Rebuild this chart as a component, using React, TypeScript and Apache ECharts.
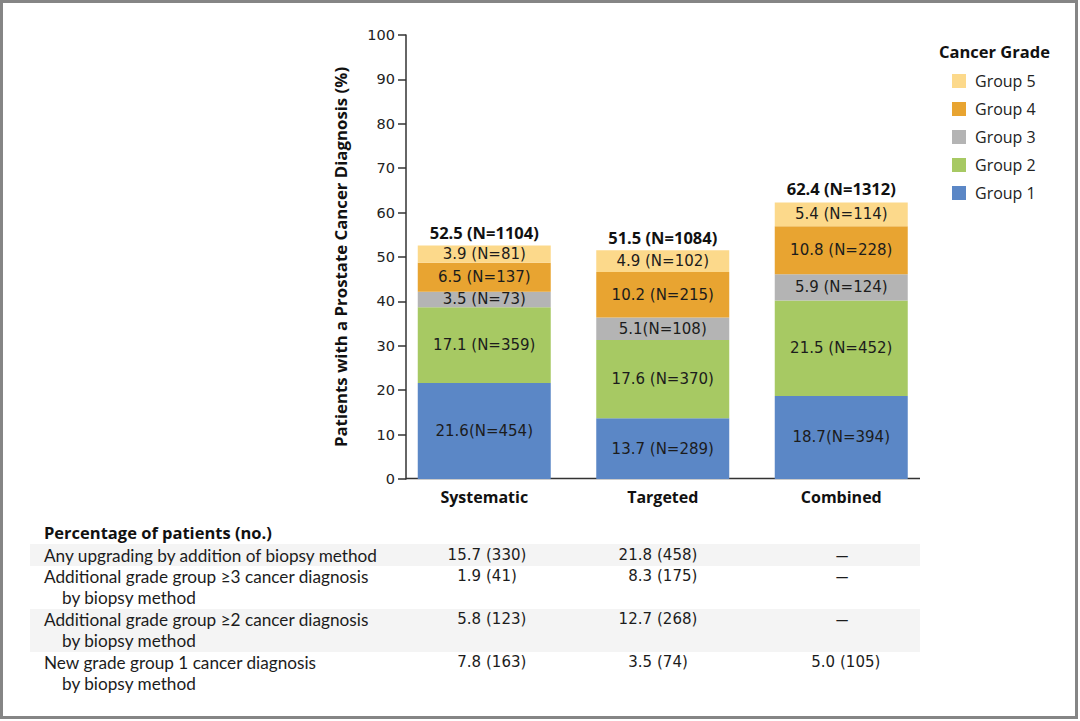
import React, { useEffect, useRef } from "react";
import * as echarts from "echarts";

const categories = ["Systematic", "Targeted", "Combined"];
const groupNames = ["Group 1", "Group 2", "Group 3", "Group 4", "Group 5"];
const group1 = [21.6, 13.7, 18.7];
const group2 = [17.1, 17.6, 21.5];
const group3 = [3.5, 5.1, 5.9];
const group4 = [6.5, 10.2, 10.8];
const group5 = [3.9, 4.9, 5.4];
const group1Labels = ["21.6(N=454)", "13.7 (N=289)", "18.7(N=394)"];
const group2Labels = ["17.1 (N=359)", "17.6 (N=370)", "21.5 (N=452)"];
const group3Labels = ["3.5 (N=73)", "5.1(N=108)", "5.9 (N=124)"];
const group4Labels = ["6.5 (N=137)", "10.2 (N=215)", "10.8 (N=228)"];
const group5Labels = ["3.9 (N=81)", "4.9 (N=102)", "5.4 (N=114)"];
const totals = [52.5, 51.5, 62.4];
const totalLabels = ["52.5 (N=1104)", "51.5 (N=1084)", "62.4 (N=1312)"];

const yAxisTitle = "Patients with a Prostate Cancer Diagnosis (%)";
const legendTitle = "Cancer Grade";

const tableTitle = "Percentage of patients (no.)";
const rowLabels = [
  ["Any upgrading by addition of biopsy method"],
  ["Additional grade group \u22653 cancer diagnosis", "by biopsy method"],
  ["Additional grade group \u22652 cancer diagnosis", "by biopsy method"],
  ["New grade group 1 cancer diagnosis", "by biopsy method"],
];
const systematicCol = ["15.7 (330)", "1.9 (41)", "5.8 (123)", "7.8 (163)"];
const targetedCol = ["21.8 (458)", "8.3 (175)", "12.7 (268)", "3.5 (74)"];
const combinedCol = ["\u2014", "\u2014", "\u2014", "5.0 (105)"];

const COLORS = ["#5b87c6", "#a7c963", "#b4b4b4", "#e8a431", "#fcd98b"];
const FONT = "Open Sans";
const NUMFONT = "DejaVu Sans";
const TABLEFONT = "Lato";

export default function App() {
  const ref = useRef<HTMLDivElement>(null);
  useEffect(() => {
    if (!ref.current) return;
    const chart = echarts.init(ref.current, null, { renderer: "svg" });
    const groups = [group1, group2, group3, group4, group5];
    const labels = [group1Labels, group2Labels, group3Labels, group4Labels, group5Labels];

    const barSeries = groups.map((g, i) => ({
      name: groupNames[i],
      type: "bar",
      stack: "total",
      barWidth: 133,
      data: g,
      itemStyle: { color: COLORS[i] },
      emphasis: { disabled: true },
      label: {
        show: true,
        position: "inside",
        fontFamily: NUMFONT,
        fontSize: 15,
        color: "#1c1c1c",
        formatter: (p: any) => labels[i][p.dataIndex],
      },
    }));

    chart.setOption({
      animation: false,
      backgroundColor: "#fff",
      textStyle: { fontFamily: FONT },
      grid: { left: 395, top: 35, width: 535.5, height: 444, containLabel: false },
      legend: {
        orient: "vertical",
        left: 952,
        top: 73,
        padding: 0,
        itemWidth: 14,
        itemHeight: 14,
        itemGap: 12,
        icon: "rect",
        selectedMode: false,
        data: ["Group 5", "Group 4", "Group 3", "Group 2", "Group 1"],
        textStyle: { fontFamily: FONT, fontSize: 16, color: "#222", padding: [0, 0, 0, 4] },
      },
      xAxis: {
        type: "category",
        data: categories,
        axisLine: { show: false },
        axisTick: { show: false },
        axisLabel: {
          fontFamily: FONT,
          fontSize: 16,
          fontWeight: "bold",
          color: "#111",
          margin: 10,
        },
      },
      yAxis: {
        type: "value",
        min: 0,
        max: 100,
        interval: 10,
        offset: -11,
        splitLine: { show: false },
        axisLine: { show: true, lineStyle: { color: "#333", width: 1.5 } },
        axisTick: { show: true, length: 8, lineStyle: { color: "#333", width: 1.5 } },
        axisLabel: { fontFamily: NUMFONT, fontSize: 14.5, color: "#222", margin: 11 },
        name: yAxisTitle,
        nameLocation: "middle",
        nameRotate: 90,
        nameGap: 57,
        nameTextStyle: { fontFamily: FONT, fontSize: 16.8, fontWeight: "bold", color: "#111" },
      },
      series: barSeries,
    });

    const graphics: any[] = [];
    graphics.push({
      type: "rect",
      shape: { x: 1.5, y: 1.5, width: 1075, height: 716 },
      style: { fill: "none", stroke: "#858585", lineWidth: 3 },
      silent: true,
    });
    graphics.push({
      type: "line",
      shape: { x1: 406, y1: 478.5, x2: 920, y2: 478.5 },
      style: { stroke: "#333", lineWidth: 1.5 },
    });
    graphics.push({
      type: "text",
      x: 939,
      y: 51,
      style: {
        text: legendTitle,
        fontFamily: FONT,
        fontWeight: "bold",
        fontSize: 16.5,
        fill: "#111",
        verticalAlign: "middle",
      },
    });
    // totals above bars, positioned through the chart's own scales
    totals.forEach((t, i) => {
      const pt = chart.convertToPixel({ seriesIndex: 0 }, [i, t]) as number[];
      graphics.push({
        type: "text",
        x: pt[0],
        y: pt[1] - 13,
        style: {
          text: totalLabels[i],
          fontFamily: FONT,
          fontWeight: "bold",
          fontSize: 16.5,
          fill: "#111",
          align: "center",
          verticalAlign: "middle",
        },
      });
    });
    graphics.push({
      type: "rect",
      shape: { x: 30, y: 544, width: 890, height: 22 },
      style: { fill: "#f4f4f4" },
      z: -1,
    });
    graphics.push({
      type: "rect",
      shape: { x: 30, y: 609, width: 890, height: 43 },
      style: { fill: "#f4f4f4" },
      z: -1,
    });
    graphics.push({
      type: "text",
      x: 44,
      y: 532,
      style: {
        text: tableTitle,
        fontFamily: FONT,
        fontWeight: "bold",
        fontSize: 16.5,
        fill: "#111",
        verticalAlign: "middle",
      },
    });
    const rowY = [[555], [576.4, 597.8], [619.2, 640.6], [662, 683.4]];
    const txt = (text: string, x: number, y: number, align: string, font: string, size: number) => ({
      type: "text",
      x,
      y,
      style: {
        text,
        fontFamily: font,
        fontSize: size,
        fill: "#1c1c1c",
        align,
        verticalAlign: "middle",
      },
    });
    rowLabels.forEach((lines, r) => {
      lines.forEach((line, k) => {
        graphics.push(txt(line, k === 0 ? 44 : 62, rowY[r][k], "left", TABLEFONT, 17.2));
      });
      const cols = [
        { v: systematicCol[r], paren: 486 },
        { v: targetedCol[r], paren: 657 },
        { v: combinedCol[r], paren: 840 },
      ];
      cols.forEach((c) => {
        const idx = c.v.indexOf(" (");
        if (idx < 0) {
          graphics.push(txt(c.v, 842, rowY[r][0], "center", TABLEFONT, 17.2));
        } else {
          graphics.push(txt(c.v.slice(0, idx), c.paren - 5, rowY[r][0], "right", NUMFONT, 15));
          graphics.push(txt(c.v.slice(idx + 1), c.paren, rowY[r][0], "left", NUMFONT, 15));
        }
      });
    });
    chart.setOption({ graphic: graphics });

    return () => chart.dispose();
  }, []);
  return (
    <div
      ref={ref}
      style={{ position: "absolute", left: 0, top: 0, width: 1080, height: 721 }}
    />
  );
}
